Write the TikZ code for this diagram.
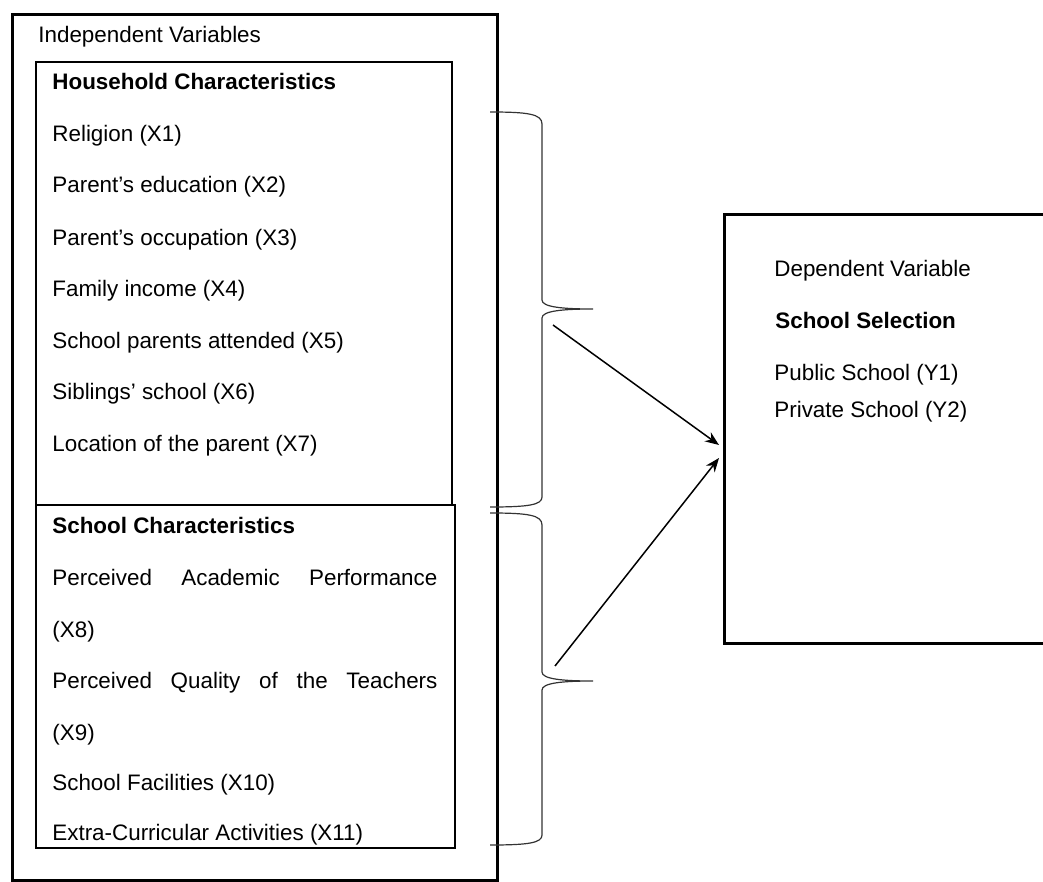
\documentclass[tikz,border=0pt]{standalone}
\usepackage{fontspec}
\setmainfont{Liberation Sans}
\usetikzlibrary{arrows.meta}
\tikzset{
  framebox/.style={draw=black, line width=1.5pt},
  listbox/.style={draw=black, line width=0.7pt},
  item/.style={anchor=base west, inner sep=0pt, font=\fontsize{11.2}{13}\selectfont},
  head/.style={item, font=\fontsize{11.2}{13}\selectfont\bfseries},
  bracket/.style={draw=black!80, line width=0.6pt},
  link/.style={draw=black, line width=0.75pt, -{Stealth[length=7pt,width=5.5pt]}},
}

\begin{document}
\begin{tikzpicture}[x=0.5pt,y=-0.5pt]
  \useasboundingbox (0,0) rectangle (1043,882);
  % independent side
  \draw[framebox] (12,15) rectangle (497,880);
  \draw[listbox] (36,62) rectangle (452,505);
  \draw[listbox] (36,505) rectangle (455,848);
  \node[item] (indep) at (38,43) {Independent Variables};
  \node[head] (house) at (52,90) {Household Characteristics};
  \foreach \i/\txt/\y in {1/Religion (X1)/142, 2/Parent’s education (X2)/193,
      3/Parent’s occupation (X3)/245, 4/Family income (X4)/296,
      5/School parents attended (X5)/348, 6/Siblings’ school (X6)/399,
      7/Location of the parent (X7)/451}
    \node[item] (x\i) at (52,\y) {\txt};
  \node[head] (school) at (52,533) {School Characteristics};
  \node[item] (x8a) at (52,585) {\makebox[192.5pt][s]{Perceived Academic Performance}};
  \node[item] (x8b) at (52,637) {(X8)};
  \node[item] (x9a) at (52,688) {\makebox[192.5pt][s]{Perceived Quality of the Teachers}};
  \node[item] (x9b) at (52,740) {(X9)};
  \node[item] (x10) at (52,790) {School Facilities (X10)};
  \node[item] (x11) at (52,840) {Extra-Curricular Activities (X11)};

  % braces
  \draw[bracket] (490,112) .. controls (528,112) and (542,114) .. (542,124) -- (542,300)
    .. controls (542,307) and (562,309) .. (593,309)
    .. controls (562,309) and (542,311) .. (542,318) -- (542,497)
    .. controls (542,505) and (528,507) .. (490,507);
  \draw[bracket] (490,513) .. controls (528,513) and (542,515) .. (542,525) -- (542,672)
    .. controls (542,679) and (562,681) .. (593,681)
    .. controls (562,681) and (542,683) .. (542,690) -- (542,835)
    .. controls (542,843) and (528,845) .. (490,845);

  % dependent side
  \draw[framebox] (724,215) rectangle (1050,643);
  \node[item] (dep) at (774,277) {Dependent Variable};
  \node[head] (select) at (775,328) {School Selection};
  \node[item] (y1) at (774,380) {Public School (Y1)};
  \node[item] (y2) at (774,417) {Private School (Y2)};

  % arrows
  \coordinate (hhfrom) at (553,325);
  \coordinate (scfrom) at (555,666);
  \coordinate (hhto) at (719,445);
  \coordinate (scto) at (719,458);
  \draw[link] (hhfrom) -- (hhto);
  \draw[link] (scfrom) -- (scto);
\end{tikzpicture}
\end{document}
